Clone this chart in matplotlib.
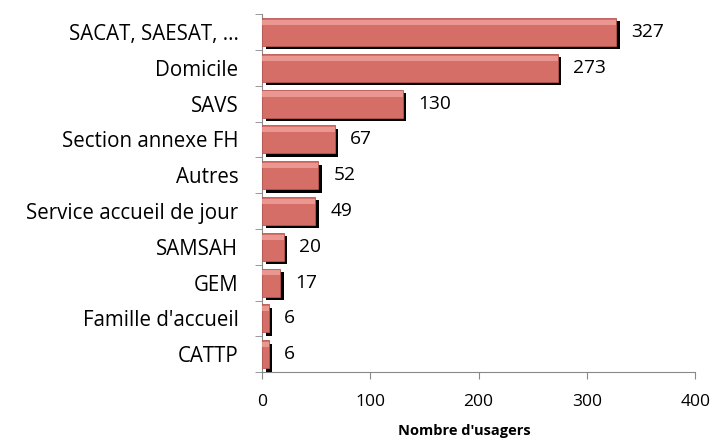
import numpy as np
import matplotlib
matplotlib.use("Agg")
import matplotlib.pyplot as plt
import matplotlib.patheffects as pe

# data (top to bottom as in chart)
categories = ["SACAT, SAESAT, ...", "Domicile", "SAVS", "Section annexe FH", "Autres",
              "Service accueil de jour", "SAMSAH", "GEM", "Famille d'accueil", "CATTP"]
values = [327, 273, 130, 67, 52, 49, 20, 17, 6, 6]
xticks = [0, 100, 200, 300, 400]

plt.rcParams['font.family'] = ['Open Sans', 'DejaVu Sans']

fig = plt.figure(figsize=(7.13, 4.43), dpi=100)
ax = fig.add_axes([0.3675, 0.160, 0.6075, 0.808])

y = np.arange(len(categories))
bars = ax.barh(y, values, height=0.78, color="#d66e68", edgecolor="#b85650", linewidth=0.6, zorder=3)
for b in bars:
    b.set_path_effects([pe.SimplePatchShadow(offset=(2.6, -2.4), shadow_rgbFace="black", alpha=1.0),
                        pe.Normal()])
# light highlight along top of bars
ax.barh(y - 0.27, values, height=0.14, color="#f0a29c", linewidth=0, zorder=4, alpha=0.8)

for yi, v in zip(y, values):
    ax.text(v + 14, yi, str(v), va="center", ha="left", fontsize=13.8, color="black")

ax.set_ylim(len(categories) - 0.5, -0.5)
ax.set_xlim(0, 400)
ax.set_yticks(y)
ax.set_yticklabels(categories, fontsize=14.8)
ax.set_yticks(np.arange(-0.5, len(categories), 1), minor=True)
ax.tick_params(axis="y", which="major", length=0, pad=17)
ax.tick_params(axis="y", which="minor", length=5, color="#888888", direction="out")
ax.set_xticks(xticks)
ax.tick_params(axis="x", length=5, color="#888888", labelsize=12.6, pad=11)

for s in ["top", "right"]:
    ax.spines[s].set_visible(False)
for s in ["left", "bottom"]:
    ax.spines[s].set_color("#888888")
    ax.spines[s].set_linewidth(0.8)

ax.set_xlabel("Nombre d'usagers", fontsize=10.5, fontweight="bold")
ax.xaxis.set_label_coords(0.466, -0.145)

fig.savefig("out.png", dpi=100)
